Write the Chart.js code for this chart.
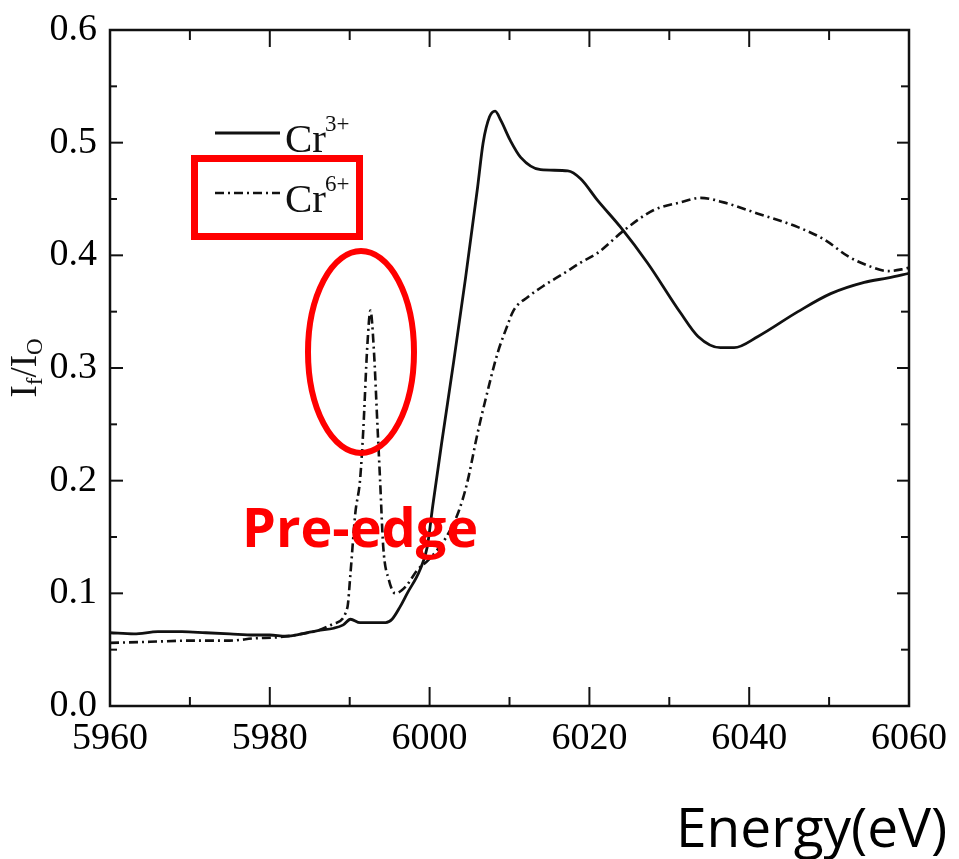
<!DOCTYPE html>
<html>
<head>
  <title>Cr K-edge XANES</title>
  <style>
    body {
      margin: 0;
      background-color: #FFF;
    }

    #wrap {
      position: relative;
      width: 959px;
      height: 859px;
    }
  </style>
</head>
<body>
  <div id="wrap">
    <canvas id="chart"></canvas>
  </div>

  <script src="https://cdn.jsdelivr.net/npm/chart.js"></script>

  <script>
    // Cr3+ spectrum (solid line), energy in eV and If/I0
    var cr3Energy = [5960, 5963, 5966, 5969, 5972, 5975, 5978, 5980, 5982, 5984, 5986, 5988, 5989.2, 5990.1, 5991.3, 5993, 5994.5, 5995.3, 5996.3, 5997.2, 5998.8, 5999.7, 6000.4, 6001.5, 6003.0, 6004.5, 6006.0, 6006.7, 6007.5, 6008.2, 6008.9, 6010.1, 6011.4, 6013.9, 6017.3, 6018.9, 6021.0, 6023.9, 6027.3, 6031.4, 6033.6, 6036.4, 6038.1, 6041.1, 6046.1, 6050.2, 6054.4, 6057.4, 6060];
    var cr3Values = [0.065, 0.064, 0.066, 0.066, 0.065, 0.064, 0.063, 0.063, 0.062, 0.064, 0.067, 0.069, 0.072, 0.077, 0.074, 0.074, 0.074, 0.077, 0.088, 0.100, 0.121, 0.141, 0.178, 0.233, 0.305, 0.380, 0.460, 0.500, 0.523, 0.528, 0.520, 0.502, 0.487, 0.476, 0.475, 0.468, 0.449, 0.425, 0.393, 0.349, 0.328, 0.318, 0.318, 0.328, 0.350, 0.366, 0.376, 0.380, 0.384];

    // Cr6+ spectrum (dash-dot line)
    var cr6Energy = [5960, 5965, 5970, 5975, 5978, 5981, 5984, 5986, 5988, 5989.7, 5990.1, 5990.7, 5991.3, 5991.7, 5992.2, 5992.6, 5993.0, 5993.5, 5993.8, 5994.2, 5994.9, 5995.7, 5997.0, 5998.5, 5999.9, 6002.0, 6003.6, 6004.7, 6006.0, 6007.0, 6008.5, 6009.7, 6010.5, 6012.3, 6014.5, 6016.8, 6019.0, 6021.0, 6024.3, 6028.0, 6031.4, 6033.9, 6036.8, 6041.1, 6046.1, 6049.4, 6052.4, 6055.2, 6057.4, 6059.4, 6060];
    var cr6Values = [0.056, 0.057, 0.058, 0.058, 0.060, 0.061, 0.064, 0.067, 0.073, 0.087, 0.118, 0.171, 0.201, 0.245, 0.319, 0.351, 0.319, 0.245, 0.201, 0.141, 0.112, 0.100, 0.106, 0.121, 0.130, 0.149, 0.172, 0.198, 0.242, 0.272, 0.313, 0.337, 0.351, 0.363, 0.374, 0.384, 0.394, 0.402, 0.422, 0.440, 0.447, 0.451, 0.447, 0.437, 0.425, 0.414, 0.399, 0.390, 0.386, 0.388, 0.389];

    // axis ticks
    var xMajorTicks = [5960, 5980, 6000, 6020, 6040, 6060];
    var xMinorTicks = [5970, 5990, 6010, 6030, 6050];
    var yMajorTicks = [0.0, 0.1, 0.2, 0.3, 0.4, 0.5, 0.6];
    var yMinorTicks = [0.05, 0.15, 0.25, 0.35, 0.45, 0.55];

    var seriesNames = ['Cr', 'Cr'];
    var seriesCharges = ['3+', '6+'];

    var ink = '#111';
    var serif = '"Liberation Serif", "DejaVu Serif", serif';

    function toPoints(xs, ys) {
      var pts = [];
      for (var i = 0; i < xs.length; i++) {
        pts.push({ x: xs[i], y: ys[i] });
      }
      return pts;
    }

    function line(ctx, x1, y1, x2, y2) {
      ctx.beginPath();
      ctx.moveTo(x1, y1);
      ctx.lineTo(x2, y2);
      ctx.stroke();
    }

    // box round the plot with inward ticks on all four sides
    var framePlugin = {
      id: 'frame',
      afterDatasetsDraw: function(chart) {
        var ctx = chart.ctx;
        var a = chart.chartArea;
        var xs = chart.scales.x;
        var ys = chart.scales.y;
        ctx.save();
        ctx.strokeStyle = ink;
        ctx.lineWidth = 2.5;
        ctx.strokeRect(a.left, a.top, a.right - a.left, a.bottom - a.top);
        ctx.lineWidth = 2;
        xMajorTicks.forEach(function(v) {
          var px = xs.getPixelForValue(v);
          line(ctx, px, a.bottom, px, a.bottom - 19);
          line(ctx, px, a.top, px, a.top + 17);
        });
        xMinorTicks.forEach(function(v) {
          var px = xs.getPixelForValue(v);
          line(ctx, px, a.bottom, px, a.bottom - 9);
          line(ctx, px, a.top, px, a.top + 10);
        });
        yMajorTicks.forEach(function(v) {
          var py = ys.getPixelForValue(v);
          line(ctx, a.left, py, a.left + 13, py);
          line(ctx, a.right, py, a.right - 12, py);
        });
        yMinorTicks.forEach(function(v) {
          var py = ys.getPixelForValue(v);
          line(ctx, a.left, py, a.left + 7, py);
          line(ctx, a.right, py, a.right - 8, py);
        });
        ctx.restore();
      }
    };

    // legend, axis titles and the red marks added on top of the figure
    var notesPlugin = {
      id: 'notes',
      afterDraw: function(chart) {
        var ctx = chart.ctx;
        var sets = chart.data.datasets;
        ctx.save();

        // legend
        var rows = [{ y: 133, base: 152 }, { y: 193, base: 212 }];
        rows.forEach(function(r, i) {
          ctx.strokeStyle = ink;
          ctx.lineWidth = sets[i].borderWidth;
          ctx.setLineDash(sets[i].borderDash || []);
          line(ctx, 215, r.y, 280, r.y);
          ctx.setLineDash([]);
          ctx.fillStyle = ink;
          ctx.textBaseline = 'alphabetic';
          ctx.textAlign = 'left';
          ctx.font = '41px ' + serif;
          ctx.fillText(seriesNames[i], 285, r.base);
          var w = ctx.measureText(seriesNames[i]).width;
          ctx.font = '23px ' + serif;
          ctx.fillText(seriesCharges[i], 285 + w - 1, r.base - 21);
        });

        // y title: I_f / I_0, rotated
        ctx.translate(36, 368);
        ctx.rotate(-Math.PI / 2);
        var parts = [
          { t: 'I', size: 37, dy: 0 },
          { t: 'f', size: 23, dy: 6 },
          { t: '/', size: 37, dy: 0 },
          { t: 'I', size: 37, dy: 0 },
          { t: 'O', size: 23, dy: 6 }
        ];
        var total = 0;
        parts.forEach(function(p) {
          ctx.font = p.size + 'px ' + serif;
          p.w = ctx.measureText(p.t).width;
          total += p.w;
        });
        var cx = -total / 2;
        parts.forEach(function(p) {
          ctx.font = p.size + 'px ' + serif;
          ctx.fillText(p.t, cx, p.dy);
          cx += p.w;
        });
        ctx.setTransform(1, 0, 0, 1, 0, 0);

        // red marks
        ctx.strokeStyle = '#F00';
        ctx.lineWidth = 7;
        ctx.strokeRect(194.5, 158.5, 165, 78);
        ctx.lineWidth = 6;
        ctx.beginPath();
        ctx.ellipse(361, 352, 53, 101, 0, 0, Math.PI * 2);
        ctx.stroke();

        ctx.fillStyle = '#F00';
        ctx.font = 'bold 54px "Open Sans", "Noto Sans", sans-serif';
        ctx.fillText('Pre-edge', 242, 547);

        // x title
        ctx.fillStyle = '#000';
        ctx.font = '55px "Open Sans", "Noto Sans", sans-serif';
        ctx.fillText('Energy(eV)', 676, 847);
        ctx.restore();
      }
    };

    var chartElement = document.getElementById('chart').getContext('2d');
    window.myChart = new Chart(chartElement, {
      type: 'line',
      data: {
        datasets: [
          {
            label: 'Cr3+',
            data: toPoints(cr3Energy, cr3Values),
            borderColor: ink,
            borderWidth: 2.8,
            pointRadius: 0,
            fill: false,
            cubicInterpolationMode: 'monotone'
          },
          {
            label: 'Cr6+',
            data: toPoints(cr6Energy, cr6Values),
            borderColor: ink,
            borderWidth: 2.6,
            borderDash: [9, 4, 2, 4],
            pointRadius: 0,
            fill: false,
            cubicInterpolationMode: 'monotone'
          }
        ]
      },
      options: {
        responsive: true,
        maintainAspectRatio: false,
        animation: false,
        layout: {
          padding: { left: 0, top: 30, right: 50, bottom: 0 }
        },
        plugins: {
          legend: { display: false },
          tooltip: { enabled: false }
        },
        scales: {
          x: {
            type: 'linear',
            min: 5960,
            max: 6060,
            afterFit: function(s) {
              s.height = 153;
              s.paddingLeft = 0;
              s.paddingRight = 0;
            },
            afterBuildTicks: function(s) {
              s.ticks = xMajorTicks.map(function(v) { return { value: v }; });
            },
            grid: { display: false, drawTicks: false },
            border: { display: false },
            ticks: {
              color: '#000',
              padding: 10,
              autoSkip: false,
              maxRotation: 0,
              font: { family: serif, size: 38 },
              callback: function(v) { return String(v); }
            }
          },
          y: {
            type: 'linear',
            min: 0,
            max: 0.6,
            afterFit: function(s) {
              s.width = 110;
              s.paddingTop = 0;
              s.paddingBottom = 0;
            },
            afterBuildTicks: function(s) {
              s.ticks = yMajorTicks.map(function(v) { return { value: v }; });
            },
            grid: { display: false, drawTicks: false },
            border: { display: false },
            ticks: {
              color: '#000',
              padding: 13,
              font: { family: serif, size: 38 },
              callback: function(v) { return Number(v).toFixed(1); }
            }
          }
        }
      },
      plugins: [framePlugin, notesPlugin]
    });
  </script>
</body>
</html>
